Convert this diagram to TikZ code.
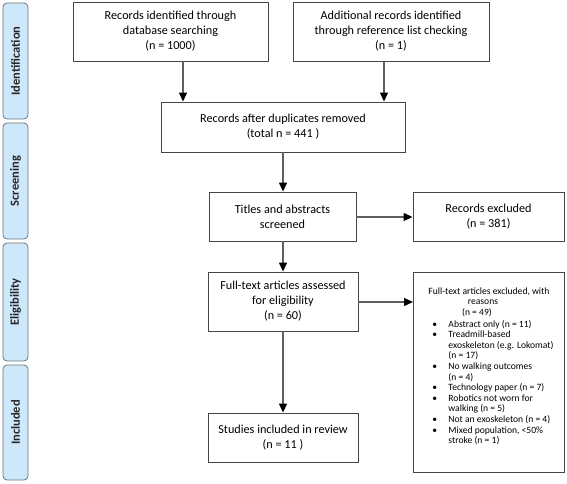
\documentclass[tikz,border=0pt]{standalone}
\usepackage{fontspec}
\setmainfont{Carlito}
\usetikzlibrary{arrows.meta}
\definecolor{barfill}{RGB}{205,232,251}
\definecolor{barline}{RGB}{105,120,130}
\definecolor{boxline}{RGB}{70,70,70}
\definecolor{arrline}{RGB}{95,95,95}
\begin{document}
\begin{tikzpicture}[x=1pt,y=-1pt,
  box/.style={draw=boxline, line width=0.9pt, fill=white, align=center,
    inner sep=2pt, font=\fontsize{12.2}{15}\selectfont},
  bar/.style={draw=barline, line width=0.8pt, fill=barfill, rounded corners=4pt},
  barlabel/.style={rotate=90, font=\fontsize{12.5}{14}\selectfont\bfseries, text=black!85},
  arr/.style={draw=arrline, line width=1.3pt, -{Triangle[length=9pt,width=8pt,color=black]}}]
\useasboundingbox (0,0) rectangle (567,484);
% side bars
\draw[bar] (3,3) rectangle (28,119);
\draw[bar] (3,123) rectangle (28,239);
\draw[bar] (3,243) rectangle (28,361);
\draw[bar] (3,365) rectangle (28,480);
\node[barlabel] (lid) at (15.5,61) {Identification};
\node[barlabel] (lsc) at (15.5,181) {Screening};
\node[barlabel] (lel) at (15.5,302) {Eligibility};
\node[barlabel] (lin) at (15.5,422.5) {Included};
% boxes
\node[box, minimum width=195pt, minimum height=59pt] (b1) at (170.5,31.5)
  {Records identified through\\database searching\\(n = 1000)};
\node[box, minimum width=196pt, minimum height=59pt] (b2) at (391,31.5)
  {Additional records identified\\through reference list checking\\(n = 1)};
\node[box, minimum width=244pt, minimum height=50pt] (b3) at (283,127)
  {Records after duplicates removed\\(total n = 441 )};
\node[box, minimum width=147pt, minimum height=49pt] (b4) at (282.5,216.5)
  {Titles and abstracts\\screened};
\node[box, minimum width=151pt, minimum height=49pt] (b5) at (488.5,216.5)
  {Records excluded\\(n = 381)};
\node[box, minimum width=150pt, minimum height=59pt] (b6) at (283,301.5)
  {Full-text articles assessed\\for eligibility\\(n = 60)};
\node[box, minimum width=150pt, minimum height=49pt] (b7) at (283,437.5)
  {Studies included in review\\(n = 11 )};
\node[draw=boxline, line width=0.9pt, fill=white, inner sep=0pt, anchor=north west] (b8) at (413,272)
  {\parbox[t][200pt][t]{151pt}{\fontsize{9.6}{10.6}\selectfont
   \vspace*{15pt}\centering
   Full-text articles excluded, with\par
   reasons\hspace*{12pt}\par
   (n = 49)\hspace*{24pt}\par
   \vspace{2pt}%
   \raggedright
   \renewcommand\arraystretch{1}%
   \begin{tabular}{@{\hspace{19pt}}p{16pt}@{}l@{}}
   \textbullet & Abstract only (n = 11)\\
   \textbullet & Treadmill-based\\
    & exoskeleton (e.g. Lokomat)\\
    & (n = 17)\\
   \textbullet & No walking outcomes\\
    & (n = 4)\\
   \textbullet & Technology paper (n = 7)\\
   \textbullet & Robotics not worn for\\
    & walking (n = 5)\\
   \textbullet & Not an exoskeleton (n = 4)\\
   \textbullet & Mixed population, <50\%\\
    & stroke (n = 1)
   \end{tabular}}};
% arrow positions
\coordinate (xa) at (183,0);
\coordinate (xb) at (384,0);
\coordinate (xc) at (283,0);
\coordinate (ya) at (0,217);
\coordinate (yb) at (0,302);
\draw[arr] (b1.south -| xa) -- (b3.north -| xa);
\draw[arr] (b2.south -| xb) -- (b3.north -| xb);
\draw[arr] (b3.south -| xc) -- (b4.north -| xc);
\draw[arr] (b4.east |- ya) -- (b5.west |- ya);
\draw[arr] (b4.south -| xc) -- (b6.north -| xc);
\draw[arr] (b6.south -| xc) -- (b7.north -| xc);
\draw[arr] (b6.east |- yb) -- (b8.west |- yb);
\end{tikzpicture}
\end{document}
